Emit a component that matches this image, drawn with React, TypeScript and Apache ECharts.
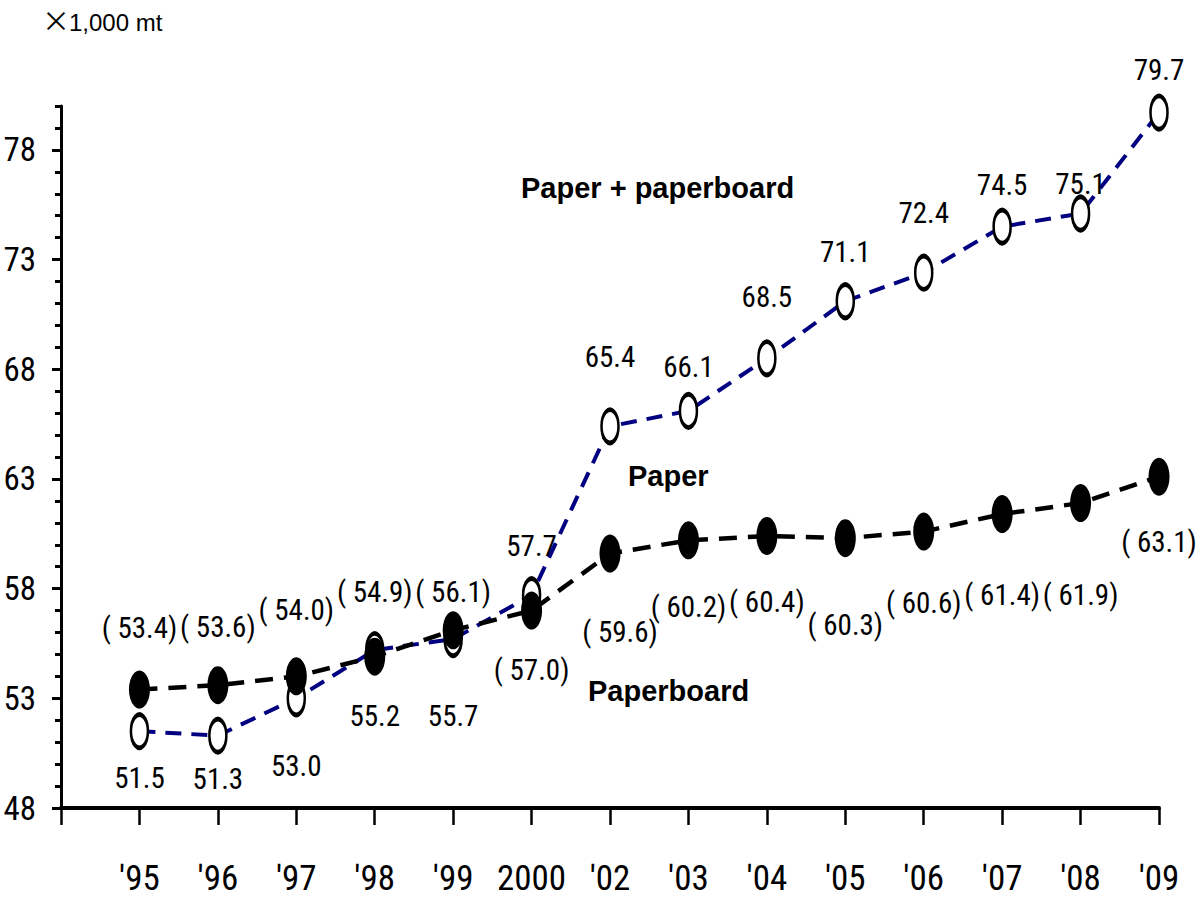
import React, { useEffect, useRef } from "react";
import * as echarts from "echarts";

const categories = ["'95", "'96", "'97", "'98", "'99", "2000", "'02", "'03", "'04", "'05", "'06", "'07", "'08", "'09"];
const totalValues = [51.5, 51.3, 53.0, 55.2, 55.7, 57.7, 65.4, 66.1, 68.5, 71.1, 72.4, 74.5, 75.1, 79.7];
const paperboardValues = [53.4, 53.6, 54.0, 54.9, 56.1, 57.0, 59.6, 60.2, 60.4, 60.3, 60.6, 61.4, 61.9, 63.1];
const yTickLabels = [48, 53, 58, 63, 68, 73, 78];
const yMin = 48;
const yMax = 80;

// label vertical offsets (px) relative to each point
const totalLabelDy = [47, 43, 68, 66, 77, -49, -69, -44, -61, -49, -60, -42, -29, -43];
const paperboardLabelDy = [-62, -58, -66, -65, -38, 59, 78, 67, 66, 87, 71, 81, 92, 65];

const NARROW = "'Roboto Condensed', 'Liberation Sans Narrow', sans-serif";
const SANS = "'Liberation Sans', Arial, sans-serif";

export default function App() {
  const ref = useRef<HTMLDivElement>(null);

  useEffect(() => {
    if (!ref.current) return;
    const chart = echarts.init(ref.current, null, { renderer: "svg" });

    const xCats = ["", ...categories];
    const totalData = [
      null,
      ...totalValues.map((v, i) => ({
        value: v,
        label: { offset: [0, totalLabelDy[i]] },
      })),
    ];
    const pbData = [
      null,
      ...paperboardValues.map((v, i) => ({
        value: v,
        label: { offset: [i === 6 ? 10 : 0, paperboardLabelDy[i]] },
      })),
    ];

    const option: any = {
      animation: false,
      backgroundColor: "#ffffff",
      grid: { left: 61, right: 41, top: 106, bottom: 97, containLabel: false, outerBoundsMode: "none" },
      xAxis: {
        type: "category",
        data: xCats,
        boundaryGap: false,
        axisLine: { show: true, lineStyle: { color: "#000", width: 4 } },
        axisTick: { show: true, length: 17, lineStyle: { color: "#000", width: 2.5 }, interval: 0 },
        axisLabel: {
          interval: 0,
          margin: 53,
          color: "#000",
          fontSize: 35,
          fontFamily: NARROW,
        },
        splitLine: { show: false },
      },
      yAxis: [
        {
          type: "value",
          min: yMin,
          max: yMax,
          interval: 1,
          position: "left",
          axisLine: { show: true, lineStyle: { color: "#000", width: 3 } },
          axisTick: { show: true, length: 6, lineStyle: { color: "#000", width: 3 } },
          axisLabel: { show: false },
          splitLine: { show: false },
        },
        {
          type: "value",
          min: yMin,
          max: yMax,
          interval: 1,
          position: "left",
          offset: 0,
          axisLine: { show: false },
          axisTick: {
            show: true,
            length: 9,
            customValues: yTickLabels,
            lineStyle: { color: "#000", width: 3 },
          },
          axisLabel: {
            show: true,
            customValues: yTickLabels,
            margin: 25,
            color: "#000",
            fontSize: 33,
            fontFamily: NARROW,
          },
          splitLine: { show: false },
        },
      ],
      series: [
        {
          name: "Paper + paperboard",
          type: "line",
          yAxisIndex: 0,
          data: totalData,
          symbol: "circle",
          symbolSize: [17, 33],
          showAllSymbol: true,
          lineStyle: { color: "#000080", width: 4, type: [16, 10] },
          itemStyle: { color: "#ffffff", borderColor: "#000", borderWidth: 3.5 },
          label: {
            show: true,
            position: "inside",
            color: "#000",
            fontSize: 29,
            fontFamily: NARROW,
            formatter: (p: any) => Number(p.value).toFixed(1),
          },
          z: 2,
        },
        {
          name: "Paperboard",
          type: "line",
          yAxisIndex: 0,
          data: pbData,
          symbol: "circle",
          symbolSize: [21, 38],
          showAllSymbol: true,
          lineStyle: { color: "#000", width: 4.5, type: [18, 11] },
          itemStyle: { color: "#000", borderColor: "#000", borderWidth: 0 },
          label: {
            show: true,
            position: "inside",
            color: "#000",
            fontSize: 29,
            fontFamily: NARROW,
            formatter: (p: any) => "( " + Number(p.value).toFixed(1) + ")",
          },
          z: 3,
        },
      ],
      graphic: [
        {
          type: "text",
          x: 42,
          y: 20,
          style: { text: "×", fontSize: 28, fontFamily: "'Noto Sans CJK JP', sans-serif", fill: "#000", verticalAlign: "middle", align: "left" },
        },
        {
          type: "text",
          x: 69,
          y: 22,
          style: { text: "1,000 mt", fontSize: 24, fontFamily: SANS, fill: "#000", verticalAlign: "middle", align: "left" },
        },
        {
          type: "text",
          x: 521,
          y: 188,
          style: { text: "Paper + paperboard", fontSize: 29, fontWeight: "bold", fontFamily: SANS, fill: "#000", verticalAlign: "middle", align: "left" },
        },
        {
          type: "text",
          x: 628,
          y: 476,
          style: { text: "Paper", fontSize: 29, fontWeight: "bold", fontFamily: SANS, fill: "#000", verticalAlign: "middle", align: "left" },
        },
        {
          type: "text",
          x: 588,
          y: 691,
          style: { text: "Paperboard", fontSize: 29, fontWeight: "bold", fontFamily: SANS, fill: "#000", verticalAlign: "middle", align: "left" },
        },
      ],
    };

    chart.setOption(option);
    return () => chart.dispose();
  }, []);

  return (
    <div
      ref={ref}
      style={{ position: "absolute", left: 0, top: 0, width: 1200, height: 905, background: "#fff" }}
    />
  );
}
